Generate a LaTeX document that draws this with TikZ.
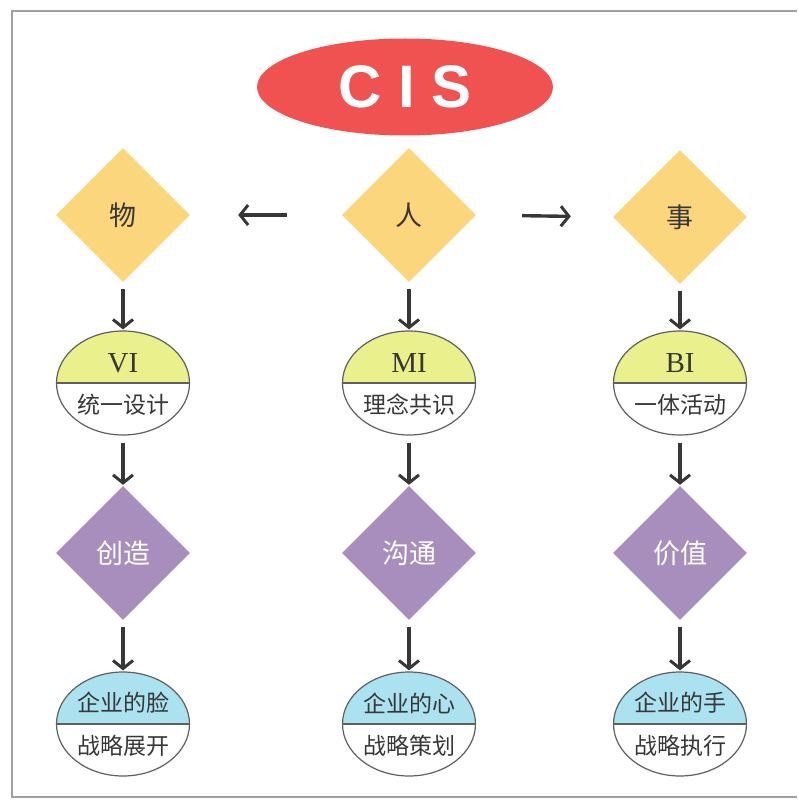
\documentclass[tikz,border=0pt]{standalone}
\usepackage{fontspec}
\setmainfont{Liberation Serif}
\newfontfamily\cjk{Noto Sans CJK SC}
\newfontfamily\headfont{Liberation Sans}
\usetikzlibrary{shapes.geometric,arrows.meta}
\definecolor{cisred}{RGB}{240,82,82}
\definecolor{diayellow}{RGB}{252,214,124}
\definecolor{topgreen}{RGB}{234,240,140}
\definecolor{diapurple}{RGB}{168,142,188}
\definecolor{topcyan}{RGB}{170,226,240}
\definecolor{ink}{RGB}{55,55,55}
\definecolor{ellline}{RGB}{95,95,95}
\definecolor{framegray}{RGB}{160,160,160}
\begin{document}
\begin{tikzpicture}[x=1pt,y=-1pt,
  dia/.style={diamond, aspect=1, minimum width=134pt, minimum height=134pt, inner sep=0pt,
    font=\cjk\fontsize{27}{27}\selectfont},
  ydia/.style={dia, fill=diayellow, text=ink},
  pdia/.style={dia, fill=diapurple, text=white},
  ell/.style={ellipse, minimum width=133pt, minimum height=104pt, inner sep=0pt,
    draw=ellline, line width=1.2pt, fill=white,
    path picture={\fill[#1] (path picture bounding box.north west) rectangle (path picture bounding box.east);
      \draw[ellline, line width=1.6pt] (path picture bounding box.west) -- (path picture bounding box.east);}},
  toplat/.style={text=ink, font=\fontsize{29}{29}\selectfont},
  topcjk/.style={text=ink, font=\cjk\fontsize{23}{23}\selectfont},
  botcjk/.style={text=ink, font=\cjk\fontsize{23}{23}\selectfont},
  arr/.style={draw=ink, line width=3.4pt, -{Straight Barb[length=8pt,width=20pt,line width=3pt]}},
  frame/.style={draw=framegray, line width=1.6pt}
]
\useasboundingbox (0,0) rectangle (797,805);
\draw[frame] (797,11) -- (12,11) -- (12,797) -- (797,797);

\node[ellipse, fill=cisred, minimum width=296pt, minimum height=97pt, inner sep=0pt,
  text=white, font=\headfont\bfseries\fontsize{60}{60}\selectfont] (cis) at (405,87) {\raisebox{-2pt}{C I S}};

% top diamonds
\node[ydia] (wu) at (123,215) {物};
\node[ydia] (ren) at (409,215) {人};
\node[ydia] (shi) at (680,217) {事};

% middle ellipses
\node[ell=topgreen] (vi) at (123,383) {};
\node[ell=topgreen] (mi) at (409,383) {};
\node[ell=topgreen] (bi) at (680,383) {};
\node[toplat] at ([yshift=20pt]vi.center) {VI};
\node[toplat] at ([yshift=20pt]mi.center) {MI};
\node[toplat] at ([yshift=20pt]bi.center) {BI};
\node[topcjk] at ([yshift=-22pt]vi.center) {统一设计};
\node[topcjk] at ([yshift=-22pt]mi.center) {理念共识};
\node[topcjk] at ([yshift=-22pt]bi.center) {一体活动};

% purple diamonds
\node[pdia] (cz) at (123,553) {创造};
\node[pdia] (gt) at (409,553) {沟通};
\node[pdia] (jz) at (680,553) {价值};

% bottom ellipses
\node[ell=topcyan] (face) at (123,724) {};
\node[ell=topcyan] (heart) at (409,724) {};
\node[ell=topcyan] (hand) at (680,724) {};
\node[botcjk] at ([yshift=21pt]face.center) {企业的脸};
\node[botcjk] at ([yshift=21pt]heart.center) {企业的心};
\node[botcjk] at ([yshift=21pt]hand.center) {企业的手};
\node[botcjk] at ([yshift=-22pt]face.center) {战略展开};
\node[botcjk] at ([yshift=-22pt]heart.center) {战略策划};
\node[botcjk] at ([yshift=-22pt]hand.center) {战略执行};

% horizontal arrows
\draw[arr, shorten <=55pt, shorten >=48pt] (ren.west) -- (wu.east);
\draw[arr, shorten <=46pt, shorten >=42pt] (ren.east) -- (shi.west);

% vertical arrows
\foreach \a/\b in {wu/vi, ren/mi, shi/bi, vi/cz, mi/gt, bi/jz, cz/face, gt/heart, jz/hand}
  \draw[arr, shorten <=7pt, shorten >=1pt] (\a.south) -- (\b.north);
\end{tikzpicture}
\end{document}
